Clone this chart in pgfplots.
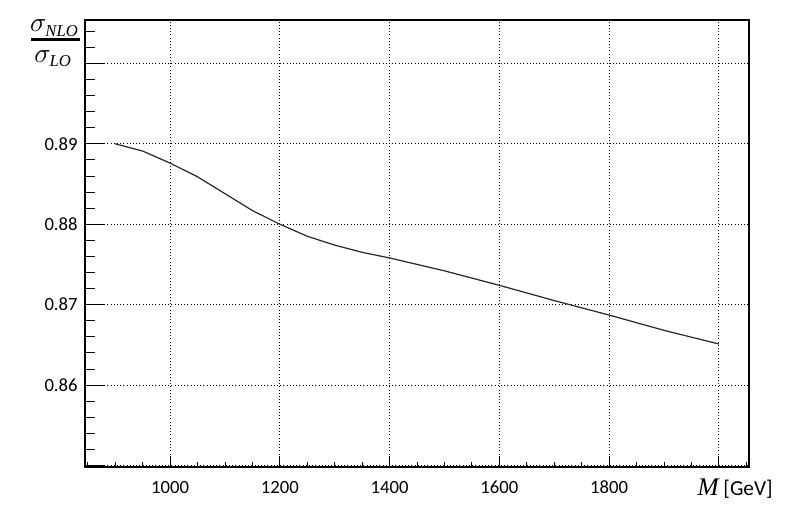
\documentclass[border=0pt]{standalone}
\usepackage{fontspec}
\setmainfont{Carlito}
\newfontfamily\serifit{Liberation Serif}
\usepackage{pgfplots}
\pgfplotsset{compat=1.18}
\usetikzlibrary{calc}

\newcommand{\sub}[1]{\hbox{\fontsize{12.5}{14}\serifit\itshape #1}}

\begin{document}
\begin{tikzpicture}
\begin{axis}[
  name=ax,
  scale only axis,
  width=498pt, height=335.25pt,
  xmin=845, xmax=2055,
  ymin=0.8498, ymax=0.9054,
  xtick={1000,1200,...,2000},
  xticklabels={1000,1200,1400,1600,1800,},
  minor xtick={850,900,...,2050},
  ytick={0.85,0.86,...,0.9001},
  yticklabels={,0.86,0.87,0.88,0.89,},
  minor ytick={0.852,0.854,...,0.905},
  /pgf/number format/assume math mode=true,
  tick align=inside,
  xtick pos=bottom, ytick pos=left,
  x tick style={/pgfplots/major tick length=8pt, /pgfplots/minor tick length=4pt, black, line width=0.6pt},
  y tick style={/pgfplots/major tick length=15pt, /pgfplots/minor tick length=7.5pt, black, line width=0.6pt},
  grid=major,
  major grid style={black, dotted, line width=0.6pt},
  axis line style={black, line width=0.8pt},
  tick label style={font=\fontsize{14}{16}\selectfont},
  xticklabel style={yshift=-7pt},
  yticklabel style={xshift=-2pt},
  clip=false,
]
\addplot[black!85, line width=0.9pt] coordinates {
  (900,0.8900) (950,0.8891) (1000,0.8876) (1050,0.8859) (1100,0.8838)
  (1150,0.8817) (1200,0.8800) (1250,0.8785) (1300,0.8774) (1350,0.8765)
  (1400,0.8758) (1500,0.8742) (1600,0.8724) (1700,0.8705) (1800,0.8687)
  (1900,0.8668) (2000,0.8651)
};
\end{axis}
\node[anchor=east, font=\fontsize{16}{18}\selectfont, inner sep=0pt]
  at ($(ax.south east)+(18pt,-16pt)$) {{\fontsize{19}{20}\serifit\itshape M} [GeV]};
% y label: sigma_NLO / sigma_LO
\node[font=\fontsize{22}{24}\selectfont, inner sep=0pt, anchor=base]
  at ($(ax.north west)+(-23pt,-9pt)$) {$\sigma_{\sub{NLO}}$};
\fill[black] ($(ax.north west)+(-40.5pt,-13.5pt)$) rectangle ($(ax.north west)+(-4pt,-15.8pt)$);
\node[font=\fontsize{22}{24}\selectfont, inner sep=0pt, anchor=base]
  at ($(ax.north west)+(-24pt,-32pt)$) {$\sigma_{\sub{LO}}$};
\pgfresetboundingbox
\path[use as bounding box] ($(ax.south west)+(-63.75pt,-48pt)$) rectangle ($(ax.north east)+(33pt,15pt)$);
\end{tikzpicture}
\end{document}
